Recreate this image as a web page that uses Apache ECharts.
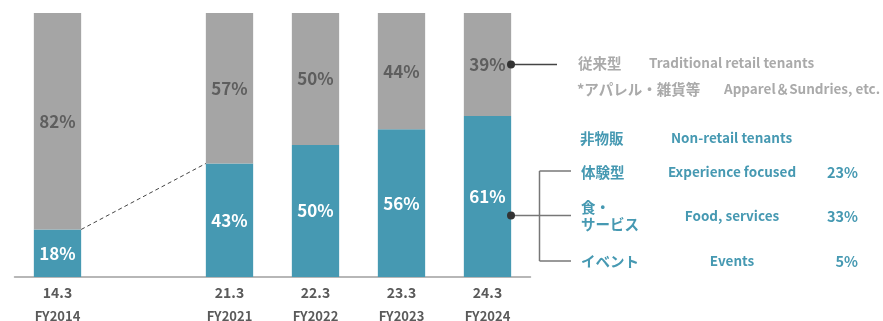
<!DOCTYPE html>
<html>
<head>
<meta charset="utf-8">
<script src="https://cdn.jsdelivr.net/npm/echarts@6/dist/echarts.min.js"></script>
<style>
  html, body { margin: 0; padding: 0; background: #fff; }
  #chart { width: 883px; height: 321px; }
</style>
</head>
<body>
<div id="chart"></div>
<script>
// Fiscal-year slots; the empty slot leaves the gap between FY2014 and FY2021
const periods = ['14.3', '', '21.3', '22.3', '23.3', '24.3'];
const fiscalYears = ['FY2014', '', 'FY2021', 'FY2022', 'FY2023', 'FY2024'];
// Share of non-retail tenants (%)
const nonRetail = [18, null, 43, 50, 56, 61];
// Share of traditional retail tenants (%)
const traditional = [82, null, 57, 50, 44, 39];

// Breakdown of non-retail tenants in FY2024
const breakdownJa = ['体験型', '食・\nサービス', 'イベント'];
const breakdownEn = ['Experience focused', 'Food, services', 'Events'];
const breakdownPct = [23, 33, 5];

const BLUE = '#4699b2';
const GRAY = '#a5a5a5';
const FONT = '"Noto Sans CJK JP", "Noto Sans", sans-serif';

const chart = echarts.init(document.getElementById('chart'));

// Dashed connector from FY2014's non-retail top to FY2021's non-retail top
const connector = {
  type: 'custom',
  coordinateSystem: 'cartesian2d',
  data: [[0, nonRetail[0], 2, nonRetail[2]]],
  z: 5,
  silent: true,
  renderItem: function (params, api) {
    const p1 = api.coord([api.value(0), api.value(1)]);
    const p2 = api.coord([api.value(2), api.value(3)]);
    const half = api.size([1, 0])[0] * 0.55 / 2;
    return {
      type: 'line',
      shape: { x1: p1[0] + half, y1: p1[1], x2: p2[0] - half, y2: p2[1] },
      style: { stroke: '#444', lineWidth: 1, lineDash: [4, 3] }
    };
  }
};

const labelPct = function (color) {
  return {
    show: true,
    position: 'inside',
    color: color,
    fontSize: 17,
    fontWeight: 'bold',
    fontFamily: FONT,
    formatter: function (p) { return p.value == null ? '' : p.value + '%'; }
  };
};

// Legend-style annotation block to the right of the bars
const graphics = [];
const textEl = function (x, y, text, color, align, size) {
  graphics.push({
    type: 'text', x: x, y: y, z: 10,
    style: {
      text: text, fill: color, fontSize: size || 13.5, fontWeight: 'bold',
      fontFamily: FONT, textAlign: align || 'left', textVerticalAlign: 'middle',
      lineHeight: 17
    }
  });
};
const lineEl = function (x1, y1, x2, y2, color) {
  graphics.push({
    type: 'line', z: 9,
    shape: { x1: x1, y1: y1, x2: x2, y2: y2 },
    style: { stroke: color, lineWidth: 1.5 }
  });
};
const dotEl = function (x, y) {
  graphics.push({ type: 'circle', z: 11, shape: { cx: x, cy: y, r: 4 }, style: { fill: '#333' } });
};

const LG = '#aaaaaa';
const JA = 14.5;
dotEl(511, 64.5);
lineEl(511, 64.5, 557, 64.5, '#444');
textEl(578, 63, '従来型', LG, 'left', JA);
textEl(649, 63, 'Traditional retail tenants', LG);
textEl(577, 89, '*アパレル・雑貨等', LG, 'left', JA);
textEl(724, 89, 'Apparel＆Sundries, etc.', LG);

textEl(580, 138, '非物販', BLUE, 'left', JA);
textEl(671, 138, 'Non-retail tenants', BLUE);

dotEl(511, 215.5);
lineEl(511, 215.5, 571, 215.5, '#777');
lineEl(539.5, 171, 539.5, 261, '#777');
lineEl(539.5, 171, 571, 171, '#777');
lineEl(539.5, 261, 571, 261, '#777');

const rowY = [172, 216, 261];
for (let i = 0; i < breakdownJa.length; i++) {
  textEl(581, rowY[i], breakdownJa[i], BLUE, 'left', JA);
  textEl(732, rowY[i], breakdownEn[i], BLUE, 'center');
  textEl(858, rowY[i], breakdownPct[i] + '%', BLUE, 'right', 14.5);
}

chart.setOption({
  animation: false,
  grid: {
    left: 14.5, right: 352.5, top: 13, bottom: 44,
    containLabel: false, outerBoundsMode: 'none'
  },
  xAxis: {
    type: 'category',
    data: periods,
    axisTick: { show: false },
    axisLine: { lineStyle: { color: '#a0a0a0', width: 1.5 } },
    axisLabel: {
      interval: 0,
      margin: 6,
      fontFamily: FONT,
      formatter: function (v, i) {
        return v ? '{p|' + v + '}\n{fy|' + fiscalYears[i] + '}' : '';
      },
      rich: {
        p: { fontSize: 14, fontWeight: 'bold', color: '#5a5a5a', fontFamily: FONT, lineHeight: 20 },
        fy: { fontSize: 13, fontWeight: 'bold', color: '#5a5a5a', fontFamily: FONT, lineHeight: 26 }
      }
    }
  },
  yAxis: { type: 'value', min: 0, max: 100, show: false, splitLine: { show: false } },
  series: [
    {
      type: 'bar', stack: 'share', data: nonRetail, barWidth: '55%',
      itemStyle: { color: BLUE }, label: labelPct('#ffffff')
    },
    {
      type: 'bar', stack: 'share', data: traditional, barWidth: '55%',
      itemStyle: { color: GRAY }, label: labelPct('#5e5e5e')
    },
    connector
  ],
  graphic: graphics
});
</script>
</body>
</html>
